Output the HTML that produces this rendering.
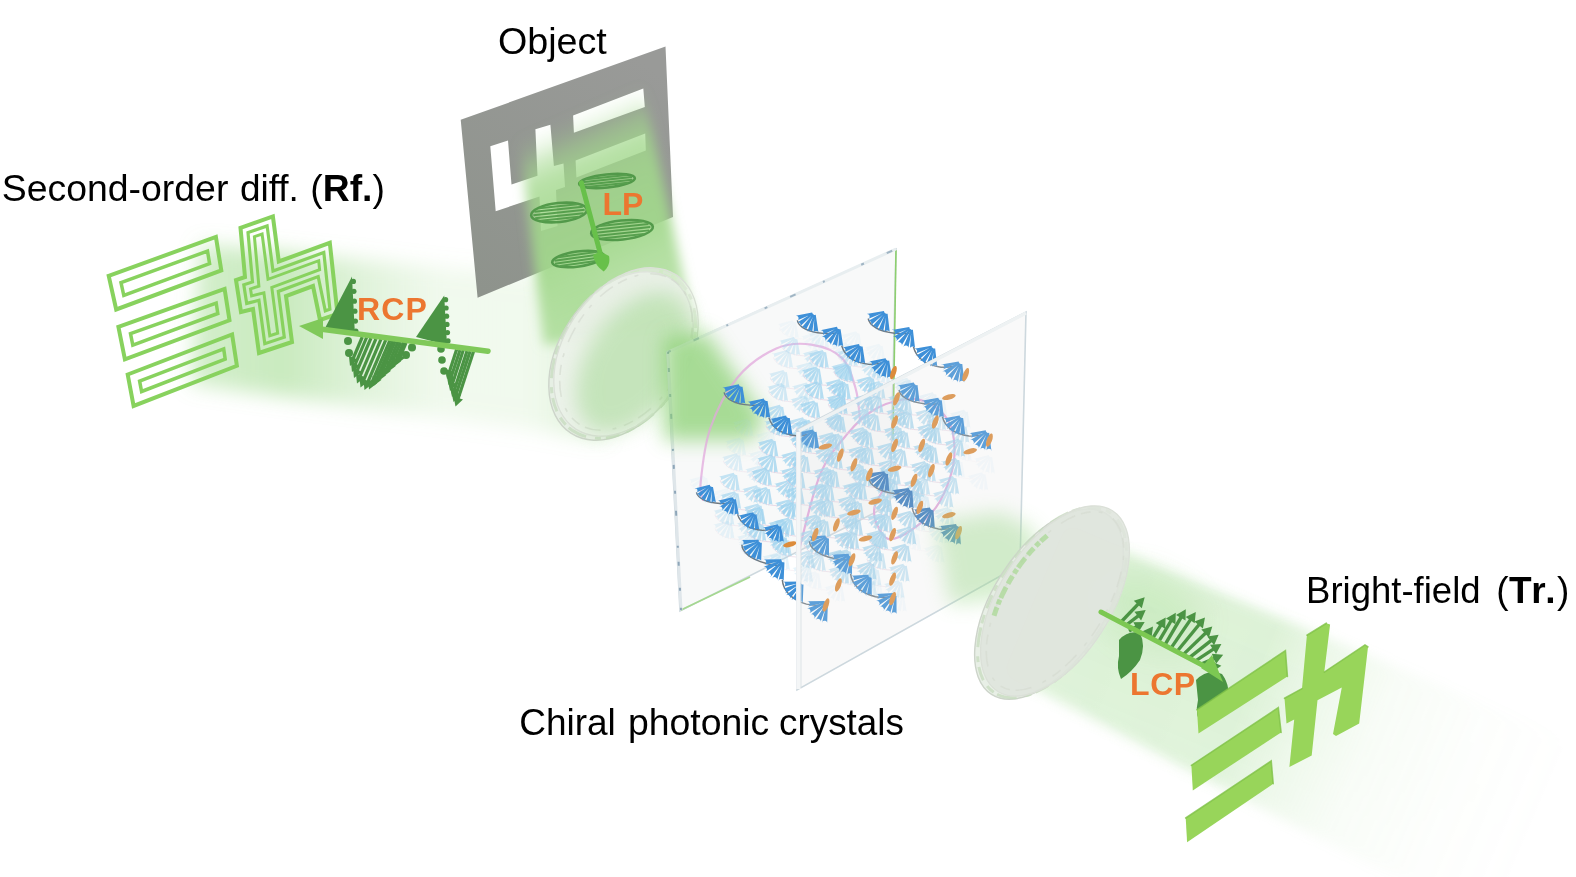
<!DOCTYPE html>
<html><head><meta charset="utf-8">
<style>
html,body{margin:0;padding:0;background:#fff;width:1576px;height:877px;overflow:hidden}
svg{display:block}
.t{font-family:"Liberation Sans",sans-serif;font-size:37px;fill:#000}
.o{font-family:"Liberation Sans",sans-serif;font-size:31px;font-weight:bold;fill:#ec7630}
</style></head><body>
<svg width="1576" height="877" viewBox="0 0 1576 877">
<defs><g id="drow"><path d="M0,0 C1.5,6 10,10.5 24,11.1 C30,11.3 34,11 37,10" fill="none" stroke="#707a82" stroke-width="1.3"/><path d="M41.5,21.9 C44,30 52,37 67,38 C72,38 76,37 79,36" fill="none" stroke="#707a82" stroke-width="1.3"/><path d="M13.3,-7.7 L-1.8,-4.0 A2.3,2.3 0 0 1 -0.2,0.3 L13.8,-6.6ZM13.6,-6.9 L-0.3,2.2 A2.3,2.3 0 0 1 2.6,5.7 L14.3,-6.0ZM14.1,-6.2 L3.6,7.3 A2.3,2.3 0 0 1 7.5,9.8 L15.1,-5.6ZM14.8,-5.7 L9.3,10.5 A2.3,2.3 0 0 1 13.8,11.5 L15.9,-5.4ZM15.5,-5.5 L15.3,11.6 A2.3,2.3 0 0 1 19.9,11.2 L16.7,-5.6ZM36.5,4.7 L21.4,8.4 A2.3,2.3 0 0 1 23.0,12.7 L37.0,5.8ZM36.8,5.5 L22.9,14.6 A2.3,2.3 0 0 1 25.8,18.1 L37.5,6.4ZM37.3,6.2 L26.8,19.7 A2.3,2.3 0 0 1 30.7,22.2 L38.3,6.8ZM38.0,6.7 L32.5,22.9 A2.3,2.3 0 0 1 37.0,23.9 L39.1,7.0ZM38.7,6.9 L38.5,24.0 A2.3,2.3 0 0 1 43.1,23.6 L39.9,6.8ZM57.2,19.8 L42.1,23.5 A2.3,2.3 0 0 1 43.7,27.8 L57.7,20.9ZM57.5,20.6 L43.6,29.7 A2.3,2.3 0 0 1 46.5,33.2 L58.2,21.5ZM58.0,21.3 L47.5,34.8 A2.3,2.3 0 0 1 51.4,37.3 L59.0,21.9ZM58.7,21.8 L53.2,38.0 A2.3,2.3 0 0 1 57.7,39.0 L59.8,22.1ZM59.4,22.0 L59.2,39.1 A2.3,2.3 0 0 1 63.8,38.7 L60.6,21.9ZM82.0,31.8 L66.9,35.5 A2.3,2.3 0 0 1 68.5,39.8 L82.5,32.9ZM82.3,32.6 L68.4,41.7 A2.3,2.3 0 0 1 71.3,45.2 L83.0,33.5ZM82.8,33.3 L72.3,46.8 A2.3,2.3 0 0 1 76.2,49.3 L83.8,33.9ZM83.5,33.8 L78.0,50.0 A2.3,2.3 0 0 1 82.5,51.0 L84.6,34.1ZM84.2,34.0 L84.0,51.1 A2.3,2.3 0 0 1 88.6,50.7 L85.4,33.9Z" fill="#3e90d8"/></g><g id="drow2"><path d="M0,0 C1.5,6 10,10.5 24,11.1 C30,11.3 34,11 37,10" fill="none" stroke="#707a82" stroke-width="1.3"/><path d="M41.5,21.9 C44,30 52,37 67,38 C72,38 76,37 79,36" fill="none" stroke="#707a82" stroke-width="1.3"/><path d="M13.3,-7.7 L-1.8,-4.0 A2.3,2.3 0 0 1 -0.2,0.3 L13.8,-6.6ZM13.6,-6.9 L-0.3,2.2 A2.3,2.3 0 0 1 2.6,5.7 L14.3,-6.0ZM14.1,-6.2 L3.6,7.3 A2.3,2.3 0 0 1 7.5,9.8 L15.1,-5.6ZM14.8,-5.7 L9.3,10.5 A2.3,2.3 0 0 1 13.8,11.5 L15.9,-5.4ZM15.5,-5.5 L15.3,11.6 A2.3,2.3 0 0 1 19.9,11.2 L16.7,-5.6ZM36.5,4.7 L21.4,8.4 A2.3,2.3 0 0 1 23.0,12.7 L37.0,5.8ZM36.8,5.5 L22.9,14.6 A2.3,2.3 0 0 1 25.8,18.1 L37.5,6.4ZM37.3,6.2 L26.8,19.7 A2.3,2.3 0 0 1 30.7,22.2 L38.3,6.8ZM38.0,6.7 L32.5,22.9 A2.3,2.3 0 0 1 37.0,23.9 L39.1,7.0ZM38.7,6.9 L38.5,24.0 A2.3,2.3 0 0 1 43.1,23.6 L39.9,6.8ZM57.2,19.8 L42.1,23.5 A2.3,2.3 0 0 1 43.7,27.8 L57.7,20.9ZM57.5,20.6 L43.6,29.7 A2.3,2.3 0 0 1 46.5,33.2 L58.2,21.5ZM58.0,21.3 L47.5,34.8 A2.3,2.3 0 0 1 51.4,37.3 L59.0,21.9ZM58.7,21.8 L53.2,38.0 A2.3,2.3 0 0 1 57.7,39.0 L59.8,22.1ZM59.4,22.0 L59.2,39.1 A2.3,2.3 0 0 1 63.8,38.7 L60.6,21.9ZM82.0,31.8 L66.9,35.5 A2.3,2.3 0 0 1 68.5,39.8 L82.5,32.9ZM82.3,32.6 L68.4,41.7 A2.3,2.3 0 0 1 71.3,45.2 L83.0,33.5ZM82.8,33.3 L72.3,46.8 A2.3,2.3 0 0 1 76.2,49.3 L83.8,33.9ZM83.5,33.8 L78.0,50.0 A2.3,2.3 0 0 1 82.5,51.0 L84.6,34.1ZM84.2,34.0 L84.0,51.1 A2.3,2.3 0 0 1 88.6,50.7 L85.4,33.9Z" fill="#3a7cbe"/></g><g id="lrow"><path d="M0,0 C1.5,6 10,10.5 24,11.1 C30,11.3 34,11 37,10" fill="none" stroke="#e6cfdf" stroke-width="1.0"/><path d="M13.3,-7.7 L-1.7,-3.7 A2.0,2.0 0 0 1 -0.3,0.0 L13.8,-6.6ZM13.6,-6.9 L-0.1,2.4 A2.0,2.0 0 0 1 2.4,5.5 L14.3,-6.0ZM14.1,-6.2 L3.9,7.5 A2.0,2.0 0 0 1 7.3,9.6 L15.1,-5.6ZM14.8,-5.7 L9.6,10.6 A2.0,2.0 0 0 1 13.5,11.5 L15.9,-5.4ZM15.5,-5.5 L15.6,11.6 A2.0,2.0 0 0 1 19.6,11.3 L16.7,-5.6ZM36.5,4.7 L21.5,8.7 A2.0,2.0 0 0 1 22.9,12.4 L37.0,5.8ZM36.8,5.5 L23.1,14.8 A2.0,2.0 0 0 1 25.6,17.9 L37.5,6.4ZM37.3,6.2 L27.1,19.9 A2.0,2.0 0 0 1 30.5,22.0 L38.3,6.8ZM38.0,6.7 L32.8,23.0 A2.0,2.0 0 0 1 36.7,23.9 L39.1,7.0ZM38.7,6.9 L38.8,24.0 A2.0,2.0 0 0 1 42.8,23.7 L39.9,6.8Z" fill="#9fd3ee"/></g></defs>
<defs>
 <filter id="b07" x="-5%" y="-5%" width="110%" height="110%"><feGaussianBlur stdDeviation="0.7"/></filter>
 <filter id="b3" x="-30%" y="-30%" width="160%" height="160%"><feGaussianBlur stdDeviation="3"/></filter>
 <filter id="b6" x="-30%" y="-30%" width="160%" height="160%"><feGaussianBlur stdDeviation="6"/></filter>
 <filter id="b10" x="-30%" y="-30%" width="160%" height="160%"><feGaussianBlur stdDeviation="10"/></filter>
 <filter id="b16" x="-40%" y="-40%" width="180%" height="180%"><feGaussianBlur stdDeviation="16"/></filter>
 <filter id="b25" x="-50%" y="-50%" width="200%" height="200%"><feGaussianBlur stdDeviation="25"/></filter>
 <linearGradient id="gLeft" x1="150" y1="0" x2="600" y2="0" gradientUnits="userSpaceOnUse">
  <stop offset="0" stop-color="#8fd47a" stop-opacity="0.12"/>
  <stop offset="0.1" stop-color="#8fd47a" stop-opacity="0.4"/>
  <stop offset="0.3" stop-color="#8fd47a" stop-opacity="0.48"/>
  <stop offset="0.5" stop-color="#9bd888" stop-opacity="0.28"/>
  <stop offset="0.65" stop-color="#a6dc94" stop-opacity="0.16"/>
  <stop offset="0.85" stop-color="#a6dc94" stop-opacity="0.16"/>
  <stop offset="1" stop-color="#8fd47a" stop-opacity="0.35"/>
 </linearGradient>
 <linearGradient id="gDown" x1="512" y1="141.7" x2="608.4" y2="361.5" gradientUnits="userSpaceOnUse">
  <stop offset="0" stop-color="#a2d88c" stop-opacity="0"/>
  <stop offset="0.07" stop-color="#a2d88c" stop-opacity="0.2"/>
  <stop offset="0.125" stop-color="#a2d88c" stop-opacity="0.5"/>
  <stop offset="0.208" stop-color="#a2d88c" stop-opacity="0.76"/>
  <stop offset="0.333" stop-color="#a2d88c" stop-opacity="0.87"/>
  <stop offset="0.542" stop-color="#a2d88c" stop-opacity="0.93"/>
  <stop offset="0.667" stop-color="#a2d88c" stop-opacity="0.82"/>
  <stop offset="0.917" stop-color="#a2d88c" stop-opacity="0.7"/>
  <stop offset="1" stop-color="#a2d88c" stop-opacity="0.7"/>
 </linearGradient>
 <linearGradient id="gOut" x1="1080" y1="600" x2="1520" y2="860" gradientUnits="userSpaceOnUse">
  <stop offset="0" stop-color="#92d47e" stop-opacity="0.55"/>
  <stop offset="0.35" stop-color="#92d47e" stop-opacity="0.45"/>
  <stop offset="0.6" stop-color="#b0dea2" stop-opacity="0.18"/>
  <stop offset="1" stop-color="#d0ecc8" stop-opacity="0"/>
 </linearGradient>
</defs>
<polygon points="200.0,244.0 600.0,282.0 605.0,440.0 190.0,384.0" fill="url(#gLeft)" filter="url(#b10)"/>
<defs><linearGradient id="gPlate" x1="640" y1="60" x2="480" y2="290" gradientUnits="userSpaceOnUse"><stop offset="0" stop-color="#999a98"/><stop offset="1" stop-color="#8e938c"/></linearGradient></defs>
<path fill="url(#gPlate)" fill-rule="evenodd" d="M460.7,119.8 L665.5,46.4 L673,217 L477.6,297.7 Z M573.1,115.6 L643.3,88.5 L644.8,107.1 L573.9,132.7 Z M575.6,160.5 L645.2,133.4 L645.8,150.6 L576.4,177.5 Z M490.3,146.3 L508,140.4 L511.5,184.6 L537.5,175.7 L535.4,129.2 L550.4,124.8 L553.9,166.1 L563.5,163.5 L565,187 L556,190 L557.5,226 L541,231 L539.5,196.5 L495.7,211.2 Z"/>
<polygon points="512.0,80.0 641.0,80.0 694.0,325.0 544.0,345.0" fill="url(#gDown)" filter="url(#b6)"/>
<g opacity="0.9">
<g transform="translate(607,181) rotate(-6)"><ellipse cx="0" cy="0" rx="28" ry="6.5" fill="none" stroke="#4a9443" stroke-width="2.6"/><line x1="-20.6" y1="-3.9" x2="20.6" y2="-3.9" stroke="#4f9a47" stroke-width="2"/><line x1="-25.2" y1="-1.3" x2="25.2" y2="-1.3" stroke="#4f9a47" stroke-width="2"/><line x1="-25.2" y1="1.3" x2="25.2" y2="1.3" stroke="#4f9a47" stroke-width="2"/><line x1="-20.6" y1="3.9" x2="20.6" y2="3.9" stroke="#4f9a47" stroke-width="2"/></g>
<g transform="translate(559,212.5) rotate(-6)"><ellipse cx="0" cy="0" rx="28" ry="9.5" fill="none" stroke="#4a9443" stroke-width="2.6"/><line x1="-19.2" y1="-6.3" x2="19.2" y2="-6.3" stroke="#4f9a47" stroke-width="2"/><line x1="-24.3" y1="-3.2" x2="24.3" y2="-3.2" stroke="#4f9a47" stroke-width="2"/><line x1="-25.8" y1="0.0" x2="25.8" y2="0.0" stroke="#4f9a47" stroke-width="2"/><line x1="-24.3" y1="3.2" x2="24.3" y2="3.2" stroke="#4f9a47" stroke-width="2"/><line x1="-19.2" y1="6.3" x2="19.2" y2="6.3" stroke="#4f9a47" stroke-width="2"/></g>
<g transform="translate(622,230) rotate(-6)"><ellipse cx="0" cy="0" rx="31" ry="9.5" fill="none" stroke="#4a9443" stroke-width="2.6"/><line x1="-21.3" y1="-6.3" x2="21.3" y2="-6.3" stroke="#4f9a47" stroke-width="2"/><line x1="-26.9" y1="-3.2" x2="26.9" y2="-3.2" stroke="#4f9a47" stroke-width="2"/><line x1="-28.5" y1="0.0" x2="28.5" y2="0.0" stroke="#4f9a47" stroke-width="2"/><line x1="-26.9" y1="3.2" x2="26.9" y2="3.2" stroke="#4f9a47" stroke-width="2"/><line x1="-21.3" y1="6.3" x2="21.3" y2="6.3" stroke="#4f9a47" stroke-width="2"/></g>
<g transform="translate(578,259) rotate(-8)"><ellipse cx="0" cy="0" rx="26" ry="7.5" fill="none" stroke="#4a9443" stroke-width="2.6"/><line x1="-19.1" y1="-4.5" x2="19.1" y2="-4.5" stroke="#4f9a47" stroke-width="2"/><line x1="-23.4" y1="-1.5" x2="23.4" y2="-1.5" stroke="#4f9a47" stroke-width="2"/><line x1="-23.4" y1="1.5" x2="23.4" y2="1.5" stroke="#4f9a47" stroke-width="2"/><line x1="-19.1" y1="4.5" x2="19.1" y2="4.5" stroke="#4f9a47" stroke-width="2"/></g>
</g>
<line x1="581.4" y1="182.8" x2="601.5" y2="258" stroke="#68c04a" stroke-width="5" stroke-linecap="round"/>
<path d="M593,255 Q600,250 609,256 Q611,265 603.7,271.5 Q595,266 593,255Z" fill="#68c04a"/>
<g fill="none" stroke="#88d25e" stroke-width="4" stroke-linejoin="miter">
<polygon points="108.7,275.9 215.9,236.9 221.3,270.5 116.2,309.5"/>
<polygon points="121.0,282.6 123.8,295.5 209.6,263.7 207.5,251.1" stroke-width="3.5"/>
<polygon points="118.4,326.8 224.6,288.9 229.5,320.3 124.9,359.3"/>
<polygon points="130.5,333.6 132.8,345.2 217.8,313.5 216.2,303.1" stroke-width="3.5"/>
<polygon points="127.7,374.5 232.1,334.4 236.9,365.8 133.6,405.9"/>
<polygon points="139.6,381.2 141.6,391.5 225.2,359.1 223.7,348.9" stroke-width="3.5"/>
<polygon points="240.5,227.8 272.9,216.4 278.8,261.5 329.8,242.8 337.5,314.0 320.0,320.0 313.0,286.0 286.0,296.0 292.0,342.0 259.0,353.0 253.0,309.0 241.0,312.0 236.0,280.0 245.0,277.0"/>
<polygon points="248.0,232.6 252.5,281.9 243.8,284.8 246.7,303.4 258.9,300.3 264.8,343.7 284.3,337.2 278.3,291.4 318.2,276.6 325.3,310.8 329.9,309.2 323.8,252.5 273.0,271.1 267.1,225.9" stroke-width="3.2"/>
<polygon points="250.5,288.9 251.6,295.9 263.9,292.9 269.8,335.7 277.7,333.1 271.8,287.4 319.6,269.7 318.7,260.7 268.0,279.3 262.1,234.0 254.4,236.7 258.9,286.1" stroke-width="3"/>
</g>
<polygon points="325.6,327.0 352.0,276.4 355.0,336.0" fill="#4b9444"/><circle cx="353.4" cy="281.4" r="2.6" fill="#4b9444"/><circle cx="353.9" cy="291.3" r="2.6" fill="#4b9444"/><circle cx="354.4" cy="301.2" r="2.6" fill="#4b9444"/><circle cx="354.9" cy="311.2" r="2.6" fill="#4b9444"/><circle cx="355.4" cy="321.1" r="2.6" fill="#4b9444"/><circle cx="355.9" cy="331.0" r="2.6" fill="#4b9444"/>
<polygon points="416.0,337.0 444.2,295.6 447.0,345.0" fill="#4b9444"/><circle cx="445.6" cy="299.7" r="2.6" fill="#4b9444"/><circle cx="446.1" cy="308.0" r="2.6" fill="#4b9444"/><circle cx="446.6" cy="316.2" r="2.6" fill="#4b9444"/><circle cx="447.0" cy="324.4" r="2.6" fill="#4b9444"/><circle cx="447.5" cy="332.6" r="2.6" fill="#4b9444"/><circle cx="448.0" cy="340.9" r="2.6" fill="#4b9444"/>
<line x1="362.3" y1="337.0" x2="352.1" y2="361.0" stroke="#4b9444" stroke-width="3.2"/><polygon points="350.0,366.0 348.9,355.8 358.1,359.7" fill="#4b9444"/><line x1="366.6" y1="337.5" x2="354.1" y2="367.0" stroke="#4b9444" stroke-width="3.2"/><polygon points="352.0,372.0 350.9,361.8 360.1,365.7" fill="#4b9444"/><line x1="371.0" y1="338.0" x2="356.1" y2="373.0" stroke="#4b9444" stroke-width="3.2"/><polygon points="354.0,378.0 352.9,367.8 362.1,371.7" fill="#4b9444"/><line x1="375.9" y1="338.9" x2="359.1" y2="378.5" stroke="#4b9444" stroke-width="3.2"/><polygon points="357.0,383.5 355.9,373.3 365.1,377.2" fill="#4b9444"/><line x1="381.0" y1="339.2" x2="362.6" y2="382.5" stroke="#4b9444" stroke-width="3.2"/><polygon points="360.5,387.5 359.4,377.3 368.6,381.2" fill="#4b9444"/><line x1="385.8" y1="339.9" x2="366.6" y2="385.0" stroke="#4b9444" stroke-width="3.2"/><polygon points="364.5,390.0 363.4,379.8 372.6,383.7" fill="#4b9444"/><line x1="389.9" y1="340.3" x2="371.1" y2="384.5" stroke="#4b9444" stroke-width="3.2"/><polygon points="369.0,389.5 367.9,379.3 377.1,383.2" fill="#4b9444"/><line x1="392.6" y1="340.9" x2="375.6" y2="381.0" stroke="#4b9444" stroke-width="3.2"/><polygon points="373.5,386.0 372.4,375.8 381.6,379.7" fill="#4b9444"/><line x1="395.2" y1="341.0" x2="380.1" y2="376.5" stroke="#4b9444" stroke-width="3.2"/><polygon points="378.0,381.5 376.9,371.3 386.1,375.2" fill="#4b9444"/><line x1="398.0" y1="341.6" x2="385.1" y2="372.0" stroke="#4b9444" stroke-width="3.2"/><polygon points="383.0,377.0 381.9,366.8 391.1,370.7" fill="#4b9444"/><line x1="400.7" y1="342.1" x2="390.1" y2="367.0" stroke="#4b9444" stroke-width="3.2"/><polygon points="388.0,372.0 386.9,361.8 396.1,365.7" fill="#4b9444"/><line x1="403.7" y1="342.2" x2="395.1" y2="362.5" stroke="#4b9444" stroke-width="3.2"/><polygon points="393.0,367.5 391.9,357.3 401.1,361.2" fill="#4b9444"/><line x1="406.0" y1="342.8" x2="399.1" y2="359.0" stroke="#4b9444" stroke-width="3.2"/><polygon points="397.0,364.0 395.9,353.8 405.1,357.7" fill="#4b9444"/>
<circle cx="348" cy="341" r="4" fill="#4b9444"/>
<circle cx="349" cy="353" r="4" fill="#4b9444"/>
<circle cx="406" cy="355" r="4" fill="#4b9444"/>
<circle cx="412" cy="347.5" r="4" fill="#4b9444"/>
<line x1="456.6" y1="349.6" x2="448.7" y2="373.9" stroke="#4b9444" stroke-width="3.2"/><polygon points="447.0,379.0 445.0,368.9 454.5,372.0" fill="#4b9444"/><line x1="460.0" y1="349.9" x2="450.2" y2="379.9" stroke="#4b9444" stroke-width="3.2"/><polygon points="448.5,385.0 446.5,374.9 456.0,378.0" fill="#4b9444"/><line x1="463.3" y1="350.1" x2="451.7" y2="385.9" stroke="#4b9444" stroke-width="3.2"/><polygon points="450.0,391.0 448.0,380.9 457.5,384.0" fill="#4b9444"/><line x1="467.0" y1="350.9" x2="453.7" y2="391.9" stroke="#4b9444" stroke-width="3.2"/><polygon points="452.0,397.0 450.0,386.9 459.5,390.0" fill="#4b9444"/><line x1="470.1" y1="351.2" x2="455.2" y2="396.9" stroke="#4b9444" stroke-width="3.2"/><polygon points="453.5,402.0 451.5,391.9 461.0,395.0" fill="#4b9444"/><line x1="473.5" y1="351.4" x2="457.2" y2="401.4" stroke="#4b9444" stroke-width="3.2"/><polygon points="455.5,406.5 453.5,396.4 463.0,399.5" fill="#4b9444"/>
<circle cx="441" cy="349" r="3.8" fill="#4b9444"/>
<circle cx="442" cy="360" r="3.8" fill="#4b9444"/>
<circle cx="444" cy="371" r="3.8" fill="#4b9444"/>
<line x1="322" y1="329.3" x2="488" y2="351.2" stroke="#80c95a" stroke-width="5.5" stroke-linecap="round"/>
<polygon points="299.0,326.0 323.0,318.0 323.0,339.0" fill="#80c95a"/>
<g transform="translate(626,352) rotate(33)"><ellipse cx="-2.0" cy="6.1" rx="62" ry="92" fill="#e6ede3" fill-opacity="0.9" stroke="#cdd4ca" stroke-width="1.4"/><ellipse cx="-1.0" cy="3.0" rx="62" ry="92" fill="none" stroke="#c8dcc0" stroke-width="3" stroke-dasharray="14 5 6 9 20 4 9 7" opacity="0.8"/><ellipse cx="0" cy="0" rx="62" ry="92" fill="#f3f6f1" fill-opacity="0.45" stroke="#dbe0d8" stroke-width="1.3"/><ellipse cx="0" cy="0" rx="56" ry="86" fill="none" stroke="#d5dcd2" stroke-width="1.6" stroke-dasharray="10 8 4 12 16 6" opacity="0.7"/><ellipse cx="12.4" cy="4.6" rx="46.5" ry="78.2" fill="#8fd27a" opacity="0.42" filter="url(#b10)"/></g>
<polygon points="667.0,352.0 896.0,249.0 890.0,505.0 680.0,611.0" fill="#f7f8f8" fill-opacity="0.9" stroke="#cdd8de" stroke-width="1.6"/>
<line x1="896" y1="250" x2="893" y2="440" stroke="#8dcf6e" stroke-width="1.6"/>
<line x1="681" y1="610" x2="750" y2="577" stroke="#a5d890" stroke-width="1.8"/>
<line x1="668" y1="352" x2="896" y2="249" stroke="#e8eef0" stroke-width="3"/>
<line x1="668" y1="352" x2="681" y2="610" stroke="#dfe6ea" stroke-width="3"/>
<line x1="668" y1="352" x2="681" y2="610" stroke="#5a7d9a" stroke-width="2" stroke-dasharray="2 14 4 22 3 17 5 30" opacity="0.6"/>
<line x1="668" y1="352" x2="896" y2="249" stroke="#5a7d9a" stroke-width="2" stroke-dasharray="3 25 6 30 2 40" opacity="0.5"/>
<path d="M664,336 L706,332 L765,418 L752,440 L664,440 Z" fill="#88d070" opacity="0.72" filter="url(#b10)"/>
<g fill="none" stroke="#e2a8dc" stroke-width="2.2" stroke-linecap="round"><path d="M703.0,500.0 C702.6,497.0 699.5,494.2 700.7,482.2 C701.9,470.2 704.3,445.4 710.4,428.0 C716.5,410.6 726.5,390.8 737.5,377.5 C748.5,364.2 764.0,354.0 776.3,348.5 C788.6,343.0 800.2,343.0 811.2,344.6 C822.2,346.2 834.8,350.8 842.2,358.2 C849.6,365.6 852.8,378.9 855.8,389.2 C858.8,399.5 859.3,414.9 860.0,420.0" opacity="0.75"/><path d="M800.0,552.0 C800.3,550.0 798.1,553.3 801.6,540.0 C805.1,526.7 813.3,490.2 821.0,472.4 C828.7,454.6 839.2,443.7 847.8,433.4 C856.4,423.1 863.2,416.4 872.4,410.8 C881.6,405.2 894.0,400.9 903.2,399.5 C912.4,398.1 920.3,399.0 927.8,402.6 C935.3,406.2 943.9,413.5 948.4,421.0 C952.9,428.5 954.2,438.6 954.5,447.8 C954.8,457.1 953.5,466.6 950.4,476.5 C947.3,486.4 942.5,498.4 936.0,507.3 C929.5,516.2 919.3,524.7 911.4,530.0 C903.5,535.3 894.6,540.1 888.8,539.1 C883.0,538.1 878.9,529.0 876.5,523.7 C874.1,518.4 873.6,512.6 874.5,507.3 C875.4,502.0 880.8,494.6 882.0,492.0"/></g>
<g filter="url(#b07)"><use href="#lrow" transform="translate(690.5,483.5)" opacity="0.09"/><use href="#lrow" transform="translate(734.0,426.3)" opacity="0.09"/><use href="#lrow" transform="translate(726.7,445.2)" opacity="0.14"/><use href="#lrow" transform="translate(723.4,460.9)" opacity="0.31"/><use href="#lrow" transform="translate(720.4,480.5)" opacity="0.59"/><use href="#lrow" transform="translate(721.7,498.9)" opacity="0.65"/><use href="#lrow" transform="translate(714.9,514.8)" opacity="0.34"/><use href="#lrow" transform="translate(715.0,528.4)" opacity="0.21"/><use href="#lrow" transform="translate(779.4,327.9)" opacity="0.09"/><use href="#lrow" transform="translate(780.7,344.8)" opacity="0.37"/><use href="#lrow" transform="translate(773.6,357.6)" opacity="0.30"/><use href="#lrow" transform="translate(770.2,377.7)" opacity="0.36"/><use href="#lrow" transform="translate(768.6,390.8)" opacity="0.45"/><use href="#lrow" transform="translate(766.5,412.5)" opacity="0.65"/><use href="#lrow" transform="translate(765.9,425.6)" opacity="0.75"/><use href="#lrow" transform="translate(758.9,446.5)" opacity="0.75"/><use href="#lrow" transform="translate(758.4,462.2)" opacity="0.75"/><use href="#lrow" transform="translate(752.5,475.3)" opacity="0.75"/><use href="#lrow" transform="translate(753.1,494.6)" opacity="0.75"/><use href="#lrow" transform="translate(746.4,514.6)" opacity="0.75"/><use href="#lrow" transform="translate(746.8,530.8)" opacity="0.70"/><use href="#lrow" transform="translate(740.5,548.1)" opacity="0.24"/><use href="#lrow" transform="translate(809.5,337.6)" opacity="0.16"/><use href="#lrow" transform="translate(809.4,357.8)" opacity="0.66"/><use href="#lrow" transform="translate(803.1,374.3)" opacity="0.75"/><use href="#lrow" transform="translate(804.6,389.1)" opacity="0.75"/><use href="#lrow" transform="translate(800.9,408.1)" opacity="0.75"/><use href="#lrow" transform="translate(796.0,427.5)" opacity="0.75"/><use href="#lrow" transform="translate(792.4,442.5)" opacity="0.75"/><use href="#lrow" transform="translate(791.1,462.4)" opacity="0.75"/><use href="#lrow" transform="translate(786.1,478.5)" opacity="0.75"/><use href="#lrow" transform="translate(785.2,494.3)" opacity="0.75"/><use href="#lrow" transform="translate(780.4,509.6)" opacity="0.75"/><use href="#lrow" transform="translate(775.3,525.3)" opacity="0.75"/><use href="#lrow" transform="translate(772.4,545.9)" opacity="0.58"/><use href="#lrow" transform="translate(770.5,559.5)" opacity="0.25"/><use href="#lrow" transform="translate(842.8,339.0)" opacity="0.09"/><use href="#lrow" transform="translate(838.2,356.0)" opacity="0.46"/><use href="#lrow" transform="translate(834.0,371.6)" opacity="0.75"/><use href="#lrow" transform="translate(831.5,389.4)" opacity="0.75"/><use href="#lrow" transform="translate(828.3,404.1)" opacity="0.75"/><use href="#lrow" transform="translate(826.8,422.4)" opacity="0.75"/><use href="#lrow" transform="translate(825.5,441.2)" opacity="0.75"/><use href="#lrow" transform="translate(823.5,458.9)" opacity="0.75"/><use href="#lrow" transform="translate(820.3,477.3)" opacity="0.75"/><use href="#lrow" transform="translate(815.3,491.0)" opacity="0.75"/><use href="#lrow" transform="translate(815.9,506.9)" opacity="0.75"/><use href="#lrow" transform="translate(811.3,526.9)" opacity="0.75"/><use href="#lrow" transform="translate(804.3,545.0)" opacity="0.75"/><use href="#lrow" transform="translate(806.4,560.8)" opacity="0.52"/><use href="#lrow" transform="translate(802.4,578.9)" opacity="0.09"/><use href="#lrow" transform="translate(870.8,373.0)" opacity="0.25"/><use href="#lrow" transform="translate(866.0,388.7)" opacity="0.63"/><use href="#lrow" transform="translate(864.0,402.9)" opacity="0.75"/><use href="#lrow" transform="translate(861.4,421.0)" opacity="0.75"/><use href="#lrow" transform="translate(854.4,438.1)" opacity="0.75"/><use href="#lrow" transform="translate(855.4,454.7)" opacity="0.75"/><use href="#lrow" transform="translate(852.4,476.4)" opacity="0.75"/><use href="#lrow" transform="translate(848.0,489.8)" opacity="0.75"/><use href="#lrow" transform="translate(844.9,508.6)" opacity="0.75"/><use href="#lrow" transform="translate(843.6,525.2)" opacity="0.75"/><use href="#lrow" transform="translate(839.9,539.0)" opacity="0.75"/><use href="#lrow" transform="translate(833.9,557.0)" opacity="0.75"/><use href="#lrow" transform="translate(834.5,574.3)" opacity="0.35"/><use href="#lrow" transform="translate(896.3,387.5)" opacity="0.21"/><use href="#lrow" transform="translate(892.9,404.1)" opacity="0.61"/><use href="#lrow" transform="translate(894.7,418.8)" opacity="0.75"/><use href="#lrow" transform="translate(890.9,438.1)" opacity="0.75"/><use href="#lrow" transform="translate(888.3,456.2)" opacity="0.75"/><use href="#lrow" transform="translate(881.4,474.4)" opacity="0.75"/><use href="#lrow" transform="translate(879.9,486.1)" opacity="0.75"/><use href="#lrow" transform="translate(874.0,506.0)" opacity="0.75"/><use href="#lrow" transform="translate(873.7,521.8)" opacity="0.75"/><use href="#lrow" transform="translate(868.8,539.1)" opacity="0.75"/><use href="#lrow" transform="translate(866.9,559.0)" opacity="0.55"/><use href="#lrow" transform="translate(862.0,575.5)" opacity="0.33"/><use href="#lrow" transform="translate(864.0,588.7)" opacity="0.09"/><use href="#lrow" transform="translate(927.8,405.0)" opacity="0.17"/><use href="#lrow" transform="translate(926.6,419.8)" opacity="0.50"/><use href="#lrow" transform="translate(922.3,433.8)" opacity="0.73"/><use href="#lrow" transform="translate(919.4,453.2)" opacity="0.75"/><use href="#lrow" transform="translate(916.5,471.4)" opacity="0.64"/><use href="#lrow" transform="translate(910.7,484.8)" opacity="0.58"/><use href="#lrow" transform="translate(911.6,502.3)" opacity="0.33"/><use href="#lrow" transform="translate(905.8,520.6)" opacity="0.21"/><use href="#lrow" transform="translate(901.8,539.9)" opacity="0.09"/><use href="#lrow" transform="translate(952.2,450.3)" opacity="0.09"/><use href="#lrow" transform="translate(945.6,467.5)" opacity="0.09"/></g>
<use href="#drow" transform="translate(797.3,320.3) rotate(2.01) scale(1.092)"/>
<use href="#drow" transform="translate(868.2,318.7) rotate(4.10) scale(1.137)"/>
<use href="#drow" transform="translate(724.1,392.3) rotate(1.52) scale(1.094)"/>
<use href="#drow" transform="translate(899.0,390.0) rotate(3.77) scale(1.087)"/>
<use href="#drow" transform="translate(696.4,492.4) rotate(0.18) scale(0.992)"/>
<use href="#drow2" transform="translate(868.7,478.2) rotate(6.42) scale(1.121)"/>
<use href="#drow" transform="translate(741.9,544.8) rotate(13.02) scale(1.138)"/>
<use href="#drow" transform="translate(809.4,541.2) rotate(10.53) scale(1.120)"/>
<g fill="#dc8c3c">
<ellipse cx="893.4" cy="372.6" rx="2.6" ry="7" transform="rotate(20 893.4 372.6)"/>
<ellipse cx="965.7" cy="374.7" rx="2.6" ry="7" transform="rotate(20 965.7 374.7)"/>
<ellipse cx="948.9" cy="397" rx="2.6" ry="7" transform="rotate(75 948.9 397)"/>
<ellipse cx="896.5" cy="398.9" rx="2.6" ry="7" transform="rotate(20 896.5 398.9)"/>
<ellipse cx="894.6" cy="422" rx="2.6" ry="7" transform="rotate(20 894.6 422)"/>
<ellipse cx="935.3" cy="422" rx="2.6" ry="7" transform="rotate(20 935.3 422)"/>
<ellipse cx="989.4" cy="440.2" rx="2.6" ry="7" transform="rotate(20 989.4 440.2)"/>
<ellipse cx="970.2" cy="451.2" rx="2.6" ry="7" transform="rotate(75 970.2 451.2)"/>
<ellipse cx="894.6" cy="445.4" rx="2.6" ry="7" transform="rotate(20 894.6 445.4)"/>
<ellipse cx="921.7" cy="445.4" rx="2.6" ry="7" transform="rotate(20 921.7 445.4)"/>
<ellipse cx="948.9" cy="459" rx="2.6" ry="7" transform="rotate(20 948.9 459)"/>
<ellipse cx="825.3" cy="446.5" rx="2.6" ry="7" transform="rotate(75 825.3 446.5)"/>
<ellipse cx="840.3" cy="455.1" rx="2.6" ry="7" transform="rotate(20 840.3 455.1)"/>
<ellipse cx="853.9" cy="464.8" rx="2.6" ry="7" transform="rotate(20 853.9 464.8)"/>
<ellipse cx="869.4" cy="474.5" rx="2.6" ry="7" transform="rotate(20 869.4 474.5)"/>
<ellipse cx="894.6" cy="468.7" rx="2.6" ry="7" transform="rotate(75 894.6 468.7)"/>
<ellipse cx="931.4" cy="470.6" rx="2.6" ry="7" transform="rotate(20 931.4 470.6)"/>
<ellipse cx="914" cy="480.3" rx="2.6" ry="7" transform="rotate(20 914 480.3)"/>
<ellipse cx="875.2" cy="501.6" rx="2.6" ry="7" transform="rotate(75 875.2 501.6)"/>
<ellipse cx="894.6" cy="513.3" rx="2.6" ry="7" transform="rotate(20 894.6 513.3)"/>
<ellipse cx="919.8" cy="507.4" rx="2.6" ry="7" transform="rotate(20 919.8 507.4)"/>
<ellipse cx="853.9" cy="512.5" rx="2.6" ry="7" transform="rotate(75 853.9 512.5)"/>
<ellipse cx="836.4" cy="524.9" rx="2.6" ry="7" transform="rotate(20 836.4 524.9)"/>
<ellipse cx="815.1" cy="534.6" rx="2.6" ry="7" transform="rotate(20 815.1 534.6)"/>
<ellipse cx="865.5" cy="538.5" rx="2.6" ry="7" transform="rotate(75 865.5 538.5)"/>
<ellipse cx="892.6" cy="534.6" rx="2.6" ry="7" transform="rotate(20 892.6 534.6)"/>
<ellipse cx="894.6" cy="557.9" rx="2.6" ry="7" transform="rotate(20 894.6 557.9)"/>
<ellipse cx="852" cy="559.8" rx="2.6" ry="7" transform="rotate(20 852 559.8)"/>
<ellipse cx="838.4" cy="585" rx="2.6" ry="7" transform="rotate(20 838.4 585)"/>
<ellipse cx="892.6" cy="579.2" rx="2.6" ry="7" transform="rotate(20 892.6 579.2)"/>
<ellipse cx="892.6" cy="598.6" rx="2.6" ry="7" transform="rotate(20 892.6 598.6)"/>
<ellipse cx="826" cy="605" rx="2.6" ry="7" transform="rotate(20 826 605)"/>
<ellipse cx="948.9" cy="515.2" rx="2.6" ry="7" transform="rotate(75 948.9 515.2)"/>
<ellipse cx="958.6" cy="532.7" rx="2.6" ry="7" transform="rotate(20 958.6 532.7)"/>
<ellipse cx="789.9" cy="544.3" rx="2.6" ry="7" transform="rotate(75 789.9 544.3)"/>
</g>
<polygon points="797.0,430.0 1026.0,312.0 1020.0,565.0 797.0,690.0" fill="#dfe3e3" fill-opacity="0.2" stroke="#cdd8de" stroke-width="1.6"/>
<line x1="799" y1="431" x2="1026" y2="313" stroke="#eef2f3" stroke-width="3.5"/>
<line x1="798.5" y1="432" x2="798.5" y2="689" stroke="#f4f6f7" stroke-width="4.5"/>
<line x1="801" y1="432" x2="801" y2="688" stroke="#d6dde1" stroke-width="0.8"/>
<path d="M935,522 L1000,512 L1035,530 L1040,595 L950,605 Z" fill="#9bd88a" opacity="0.42" filter="url(#b10)"/>
<defs>
 <linearGradient id="oAcross" x1="0" y1="-70" x2="0" y2="115" gradientUnits="userSpaceOnUse">
  <stop offset="0" stop-color="#78cc62" stop-opacity="0.26"/>
  <stop offset="0.5" stop-color="#7ccd66" stop-opacity="0.27"/>
  <stop offset="1" stop-color="#80cf6a" stop-opacity="0.25"/>
 </linearGradient>
 <linearGradient id="oAlong" x1="-30" y1="0" x2="520" y2="0" gradientUnits="userSpaceOnUse">
  <stop offset="0" stop-color="#fff" stop-opacity="1"/>
  <stop offset="0.42" stop-color="#fff" stop-opacity="0.95"/>
  <stop offset="0.53" stop-color="#fff" stop-opacity="0.5"/>
  <stop offset="0.655" stop-color="#fff" stop-opacity="0.2"/>
  <stop offset="0.82" stop-color="#fff" stop-opacity="0.07"/>
  <stop offset="1" stop-color="#fff" stop-opacity="0"/>
 </linearGradient>
 <mask id="oMask" maskUnits="userSpaceOnUse" x="-100" y="-150" width="800" height="400"><rect x="-100" y="-150" width="800" height="400" fill="url(#oAlong)"/></mask>
</defs>
<g transform="translate(1070,600) rotate(23)"><g mask="url(#oMask)"><polygon points="-30,-66 560,-66 560,140 170,110 -30,92" fill="url(#oAcross)" filter="url(#b6)"/></g></g>
<ellipse cx="1150" cy="610" rx="55" ry="35" transform="rotate(25 1150 610)" fill="#86d070" opacity="0.18" filter="url(#b16)"/>
<g transform="translate(1055,601) rotate(32.5)"><ellipse cx="-3.4" cy="5.8" rx="56" ry="107" fill="#e6ede3" fill-opacity="0.9" stroke="#cdd4ca" stroke-width="1.4"/><ellipse cx="-1.7" cy="2.9" rx="56" ry="107" fill="none" stroke="#c8dcc0" stroke-width="3" stroke-dasharray="14 5 6 9 20 4 9 7" opacity="0.8"/><ellipse cx="0" cy="0" rx="56" ry="107" fill="#dfe5dd" fill-opacity="0.88" stroke="#dbe0d8" stroke-width="1.3"/><ellipse cx="0" cy="0" rx="50" ry="101" fill="none" stroke="#d5dcd2" stroke-width="1.6" stroke-dasharray="10 8 4 12 16 6" opacity="0.7"/><polyline points="-43.5,45.2 -45.4,37.6 -46.9,29.8 -48.0,21.7 -48.8,13.4 -49.2,5.0 -49.2,-3.4 -48.9,-11.7 -48.2,-20.0 -47.1,-28.2 -45.7,-36.1 -43.9,-43.7 -41.8,-51.0" fill="none" stroke="#a9d896" stroke-width="5" stroke-dasharray="9 3 5 2 12 4" opacity="0.75"/></g>
<path d="M1119,640 Q1128,630 1140,633 Q1146,645 1140,660 Q1132,672 1121,679 Q1116,668 1119,656Z" fill="#4b9444"/>
<path d="M1196,680 Q1208,668 1222,674 Q1232,688 1226,702 Q1214,716 1203,727 Q1194,716 1198,700Z" fill="#4b9444"/>
<line x1="1122.0" y1="621.0" x2="1140.5" y2="601.6" stroke="#4b9444" stroke-width="3.4"/><polygon points="1144.7,597.3 1141.8,608.3 1133.8,600.7" fill="#4b9444"/><line x1="1125.0" y1="626.0" x2="1140.9" y2="613.8" stroke="#4b9444" stroke-width="3.4"/><polygon points="1145.7,610.1 1141.1,620.6 1134.4,611.8" fill="#4b9444"/><line x1="1129.0" y1="631.0" x2="1139.5" y2="625.0" stroke="#4b9444" stroke-width="3.4"/><polygon points="1144.7,622.0 1138.8,631.7 1133.3,622.2" fill="#4b9444"/><line x1="1146.0" y1="636.0" x2="1149.4" y2="631.3" stroke="#4b9444" stroke-width="3.4"/><polygon points="1153.0,626.5 1151.5,637.8 1142.6,631.3" fill="#4b9444"/><line x1="1152.2" y1="639.1" x2="1162.5" y2="622.5" stroke="#4b9444" stroke-width="3.4"/><polygon points="1165.7,617.4 1165.1,628.8 1155.7,623.0" fill="#4b9444"/><line x1="1158.4" y1="642.2" x2="1172.7" y2="618.0" stroke="#4b9444" stroke-width="3.4"/><polygon points="1175.8,612.8 1175.4,624.2 1166.0,618.6" fill="#4b9444"/><line x1="1164.6" y1="645.3" x2="1182.8" y2="614.4" stroke="#4b9444" stroke-width="3.4"/><polygon points="1185.8,609.2 1185.5,620.6 1176.0,615.0" fill="#4b9444"/><line x1="1170.8" y1="648.4" x2="1192.4" y2="616.9" stroke="#4b9444" stroke-width="3.4"/><polygon points="1195.8,611.9 1194.7,623.3 1185.6,617.0" fill="#4b9444"/><line x1="1177.0" y1="651.5" x2="1201.2" y2="622.0" stroke="#4b9444" stroke-width="3.4"/><polygon points="1205.0,617.4 1202.9,628.6 1194.4,621.6" fill="#4b9444"/><line x1="1183.2" y1="654.6" x2="1208.0" y2="630.7" stroke="#4b9444" stroke-width="3.4"/><polygon points="1212.3,626.5 1208.9,637.4 1201.3,629.5" fill="#4b9444"/><line x1="1189.4" y1="657.7" x2="1213.9" y2="638.4" stroke="#4b9444" stroke-width="3.4"/><polygon points="1218.6,634.7 1214.1,645.2 1207.3,636.6" fill="#4b9444"/><line x1="1195.6" y1="660.8" x2="1216.4" y2="647.2" stroke="#4b9444" stroke-width="3.4"/><polygon points="1221.4,643.9 1216.0,654.0 1210.0,644.8" fill="#4b9444"/><line x1="1201.8" y1="663.9" x2="1217.7" y2="657.1" stroke="#4b9444" stroke-width="3.4"/><polygon points="1223.2,654.8 1216.1,663.8 1211.8,653.7" fill="#4b9444"/><line x1="1208.0" y1="667.0" x2="1215.4" y2="666.3" stroke="#4b9444" stroke-width="3.4"/><polygon points="1221.4,665.8 1211.9,672.2 1210.9,661.2" fill="#4b9444"/>
<line x1="1101" y1="612" x2="1206" y2="667" stroke="#7cc852" stroke-width="5" stroke-linecap="round"/>
<polygon points="1223.0,682.0 1201.0,668.0 1212.0,655.0" fill="#7cc852"/>
<g fill="#98d55a">
<polygon points="1197.0,709.7 1285.4,650.7 1287.4,676.4 1198.5,733.4"/>
<polygon points="1191.4,765.3 1278.3,707.7 1281.1,732.5 1192.8,790.4"/>
<polygon points="1185.7,818.0 1271.2,761.0 1273.2,783.8 1187.1,842.2"/>
<polygon points="1306.9,635.2 1326.3,623.2 1330.1,624.5 1324.3,672.1 1365.0,644.9 1368.0,646.9 1359.2,723.5 1336.0,736.1 1333.0,734.1 1341.8,687.6 1317.5,700.2 1311.7,755.5 1289.4,767.1 1294.2,719.6 1286.5,723.5 1284.5,698.3 1302.0,688.6"/>
</g>
<g fill="none" stroke="#80c248" stroke-width="1.6" stroke-linecap="round" opacity="0.8">
<polyline points="1197.0,709.7 1285.4,650.7 1287.4,676.4"/>
<polyline points="1191.4,765.3 1278.3,707.7 1281.1,732.5"/>
<polyline points="1185.7,818.0 1271.2,761.0 1273.2,783.8"/>
<polyline points="1306.9,635.2 1326.3,623.2"/><polyline points="1324.3,672.1 1365.0,644.9 1368.0,646.9"/><polyline points="1284.5,698.3 1302.0,688.6"/>
</g>
<text class="t" x="497.9" y="54" style="font-size:37.7px">Object</text>
<text class="t" x="1.8" y="201" style="font-size:37.4px">Second-order</text>
<text class="t" x="239.9" y="201" style="font-size:37px">diff.</text>
<text class="t" x="310.3" y="201" style="font-size:37.3px">(<tspan font-weight="bold">Rf.</tspan>)</text>
<text class="t" x="519.2" y="734.5" style="font-size:37px">Chiral</text>
<text class="t" x="627.9" y="734.5" style="font-size:37.4px">photonic</text>
<text class="t" x="779.1" y="734.5" style="font-size:36.8px">crystals</text>
<text class="t" x="1306.1" y="602.5" style="font-size:36.5px">Bright-field</text>
<text class="t" x="1496.3" y="602.5" style="font-size:37px">(</text>
<text class="t" x="1509.1" y="602.5" style="font-size:37px;letter-spacing:1.6px"><tspan font-weight="bold">Tr.</tspan></text>
<text class="t" x="1557" y="602.5" style="font-size:37px">)</text>
<text class="o" x="602.5" y="214.7" style="font-size:32px;letter-spacing:0px">LP</text>
<text class="o" x="357" y="320.2" style="font-size:32px;letter-spacing:1.2px">RCP</text>
<text class="o" x="1130" y="695" style="font-size:32px;letter-spacing:0.6px">LCP</text>
</svg>
</body></html>
